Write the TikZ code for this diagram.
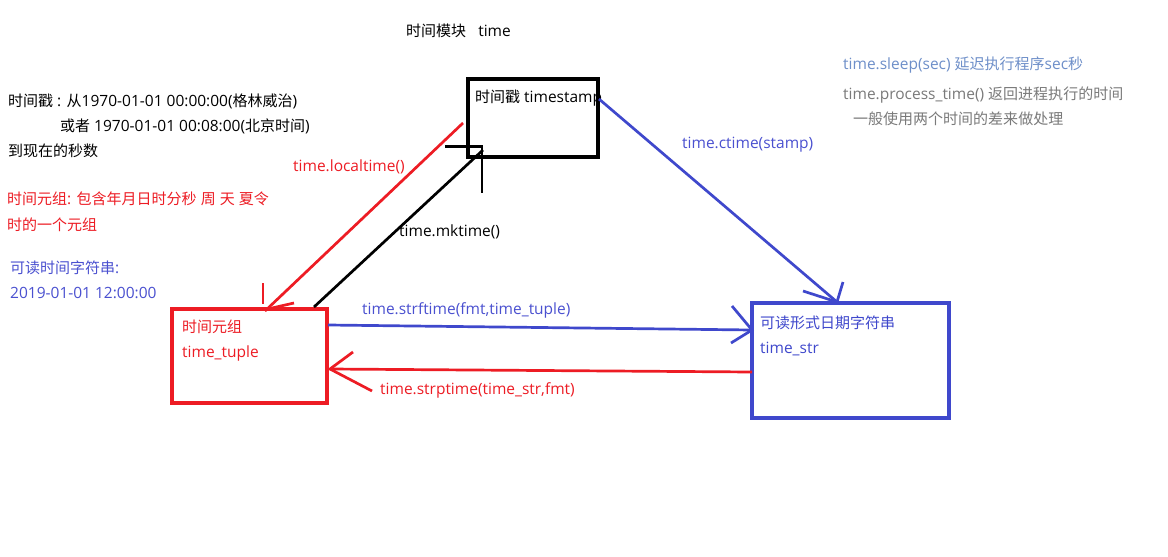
\documentclass[tikz,border=0pt]{standalone}
\usepackage{fontspec}
\setmainfont{Open Sans}
\newfontfamily\cjk{Noto Sans CJK SC}[Scale=0.968]
\newcommand{\zh}[1]{{\cjk #1}}
\definecolor{pred}{HTML}{ED1C24}
\definecolor{pblue}{HTML}{3F48CC}
\definecolor{tblue}{HTML}{4A50D0}
\definecolor{lblue}{HTML}{6E8FC9}
\definecolor{tgray}{HTML}{7A7A7A}
\begin{document}
\begin{tikzpicture}[x=1pt,y=-1pt,
  txt/.style={anchor=west,inner sep=0pt,font=\fontsize{15.5}{18}\selectfont},
  boxln/.style={line width=3.1pt},
  conn/.style={line width=2.7pt},
  tip/.style={line width=2.7pt}]
\useasboundingbox (0,0) rectangle (1168,557);
\fill[white] (0,0) rectangle (1168,557);

% title
\node[txt] (title) at (406,31) {\zh{时间模块}\ \ \ time};

% left notes
\node[txt] (n1) at (8,101) {\zh{时间戳} : \zh{从}1970-01-01 00:00:00(\zh{格林威治})};
\node[txt] (n2) at (60,126) {\zh{或者} 1970-01-01 00:08:00(\zh{北京时间})};
\node[txt] (n3) at (8,151) {\zh{到现在的秒数}};
\node[txt,text=pred] (n4) at (7,199) {\zh{时间元组}: \zh{包含年月日时分秒} \zh{周} \zh{天} \zh{夏令}};
\node[txt,text=pred] (n5) at (7,225) {\zh{时的一个元组}};
\node[txt,text=tblue] (n6) at (10,268) {\zh{可读时间字符串}:};
\node[txt,text=tblue] (n7) at (10,293) {2019-01-01 12:00:00};

% right notes
\node[txt,text=lblue] (r1) at (843,65) {time.sleep(sec) \zh{延迟执行程序}sec\zh{秒}};
\node[txt,text=tgray] (r2) at (843,95) {time.process\_time() \zh{返回进程执行的时间}};
\node[txt,text=tgray] (r3) at (853,119) {\zh{一般使用两个时间的差来做处理}};

% boxes
\draw[boxln,black] (468,79) rectangle (598,157);
\coordinate (tsbox) at (468,79);
\node[txt] (tslbl) at (475,98) {\zh{时间戳} timestamp};

\draw[boxln,pred] (172,309) rectangle (327,403);
\coordinate (ttbox) at (172,309);
\node[txt,text=pred] (tt1) at (182,327) {\zh{时间元组}};
\node[txt,text=pred] (tt2) at (182,353) {time\_tuple};

\draw[boxln,pblue] (752,303) rectangle (949,418);
\coordinate (tsr) at (752,303);
\node[txt,text=pblue] (ts1) at (760,323) {\zh{可读形式日期字符串}};
\node[txt,text=pblue] (ts2) at (760,349) {time\_str};

% localtime (red)
\coordinate (la) at (463,123);
\coordinate (lb) at (265,311);
\coordinate (lt1) at (263,283);
\coordinate (lt2) at (263,304);
\coordinate (lt3) at (272,308);
\coordinate (lt4) at (294,303);
\draw[conn,pred] (la) -- (lb);
\draw[tip,pred] (lt1) -- (lt2);
\draw[tip,pred] (lt3) -- (lt4);
\node[txt,text=pred] (lloc) at (293,167) {time.localtime()};

% mktime (black)
\coordinate (ma) at (314,307);
\coordinate (mb) at (483,150);
\coordinate (mt1) at (445,146.5);
\coordinate (mt2) at (482,146.5);
\coordinate (mt3) at (482,193);
\draw[conn,black] (ma) -- (mb);
\draw[tip,black] (mt1) -- (mt2) -- (mt3);
\node[txt] (lmk) at (399,232) {time.mktime()};

% ctime (blue)
\coordinate (ca) at (599,99);
\coordinate (cb) at (837,302);
\coordinate (ct1) at (803,291);
\coordinate (ct2) at (843,282);
\draw[conn,pblue] (ca) -- (cb);
\draw[tip,pblue] (ct1) -- (cb) -- (ct2);
\node[txt,text=tblue] (lct) at (682,145) {time.ctime(stamp)};

% strftime (blue)
\coordinate (sa) at (328,325);
\coordinate (sb) at (752,330);
\coordinate (st1) at (732,306);
\coordinate (st2) at (731,343);
\draw[conn,pblue] (sa) -- (sb);
\draw[tip,pblue] (st1) -- (sb) -- (st2);
\node[txt,text=tblue] (lsf) at (362,310) {time.strftime(fmt,time\_tuple)};

% strptime (red)
\coordinate (pa) at (752,372);
\coordinate (pb) at (330,369);
\coordinate (pt1) at (353,352);
\coordinate (pt2) at (372,391);
\draw[conn,pred] (pa) -- (pb);
\draw[tip,pred] (pt1) -- (pb) -- (pt2);
\node[txt,text=pred] (lsp) at (380,390) {time.strptime(time\_str,fmt)};
\end{tikzpicture}
\end{document}
